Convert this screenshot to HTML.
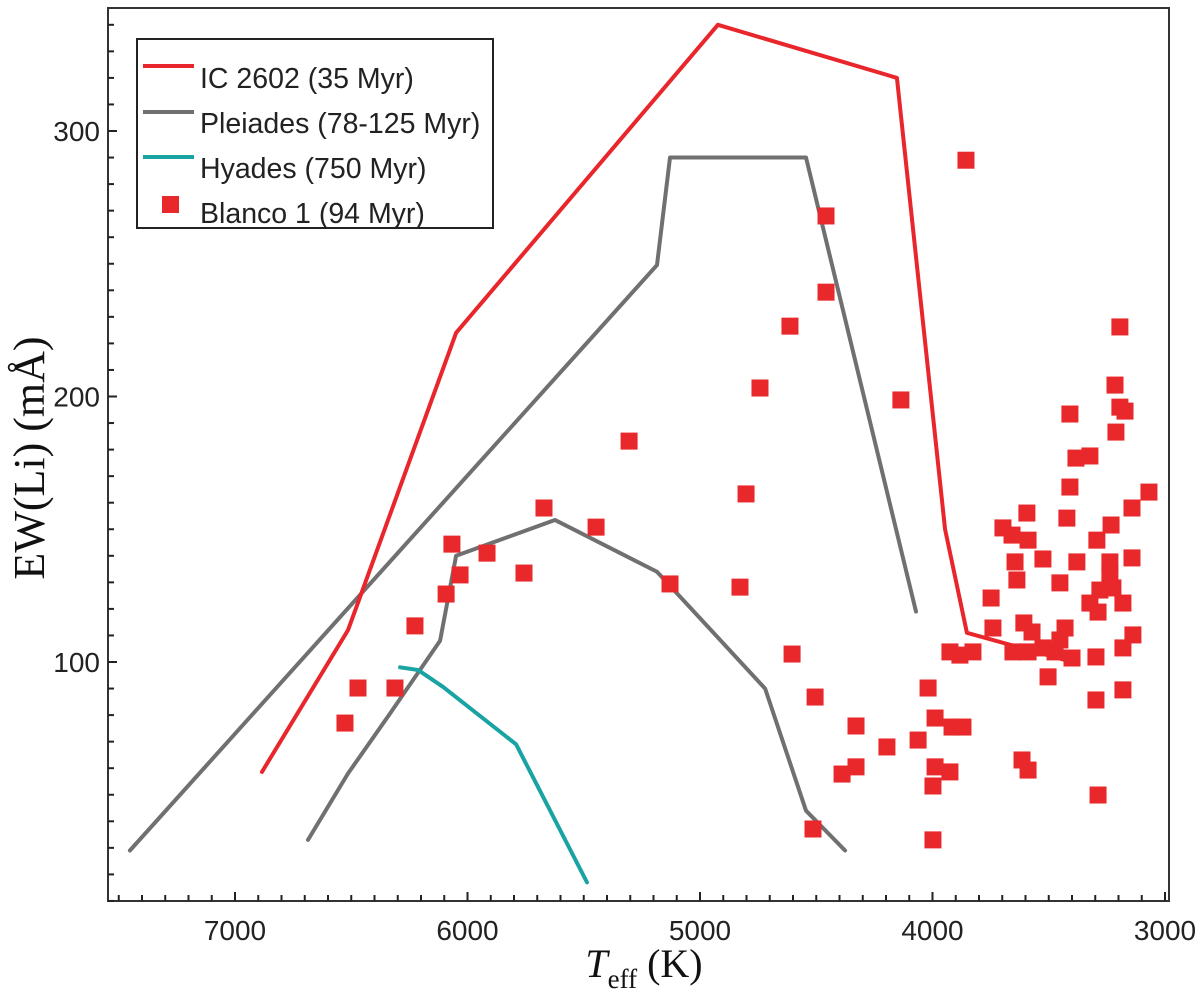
<!DOCTYPE html>
<html><head><meta charset="utf-8"><style>
body{margin:0;background:#fff;}
svg{display:block;}
</style></head><body>
<svg id="chart" width="1200" height="998" viewBox="0 0 1200 998" xmlns="http://www.w3.org/2000/svg">
<g id="marks"></g>
<g id="axes"></g>
<text x="44" y="458" transform="rotate(-90 44 458)" text-anchor="middle" font-family="Liberation Serif, serif" font-size="44" fill="#111">EW(Li) (mÅ)</text>
<text x="644" y="977" text-anchor="middle" font-family="Liberation Serif, serif" font-size="40" fill="#111"><tspan font-style="italic">T</tspan><tspan font-size="27" dy="11">eff</tspan><tspan dy="-11"> (K)</tspan></text>
<g>
<rect x="137" y="39" width="356" height="189" fill="#fff" stroke="#222" stroke-width="2"/>
<line x1="143" y1="66" x2="194" y2="66" stroke="#e8262b" stroke-width="4"/>
<text x="200" y="88" font-family="Liberation Sans, sans-serif" font-size="28.5" fill="#222">IC 2602 (35 Myr)</text>
<line x1="143" y1="112" x2="194" y2="112" stroke="#707070" stroke-width="4"/>
<text x="200" y="133" font-family="Liberation Sans, sans-serif" font-size="28.5" fill="#222">Pleiades (78-125 Myr)</text>
<line x1="143" y1="157" x2="194" y2="157" stroke="#1aa3a3" stroke-width="4"/>
<text x="200" y="178" font-family="Liberation Sans, sans-serif" font-size="28.5" fill="#222">Hyades (750 Myr)</text>
<rect x="162" y="196" width="17" height="17" fill="#e8282b"/>
<text x="200" y="223" font-family="Liberation Sans, sans-serif" font-size="28.5" fill="#222">Blanco 1 (94 Myr)</text>
</g>
</svg>
<script>
const xTicks=[7000,6000,5000,4000,3000];
const yTicks=[100,200,300];
const icT=[6884,6514,6049,4923,4153,3946,3852,3400];
const icEW=[58.6,112,224,340,320,150,111,100];
const plUpT=[7452,5185,5129,4544,4071];
const plUpEW=[29,249.5,290,290,119];
const plLoT=[6686,6514,6338,6118,6049,5624,5185,4720,4544,4376];
const plLoEW=[33,58,80,108,140,153.5,134,90,44,29];
const hyT=[6290,6213,6105,5791,5486];
const hyEW=[98,97,90.6,69,17];
const blT=[6527,6471,6312,6226,6092,6032,6067,5916,5757,5671,5447,5305,5129,4828,4802,4742,4613,4604,4505,4514,4458,4458,4389,4329,4329,4136,3856,3409,3383,3323,3215,3211,3194,3194,3172,
3409,3069,3594,3142,3422,3232,3697,3658,3589,3293,3525,3379,3645,3142,3237,3637,3237,3452,3280,3224,3323,3181,3288,3748,3740,3607,3572,3430,3452,3525,3473,3138,3181,3925,3882,3826,3654,3589,3400,3297,3503,4019,3181,3297,3989,3916,3869,4062,4196,3615,3589,3989,3925,3998,3288,3998];
const blEW=[77,90.2,90.2,113.6,125.6,132.8,144.4,141,133.5,158,150.8,183.2,129.4,128.2,163.3,203.2,226.5,103,86.8,37.1,268,239.3,57.8,75.9,60.5,198.7,289,193.4,176.8,177.6,204.3,186.6,226.2,196,194.5,
165.9,164,156.1,158,154.2,151.6,150.5,147.8,145.9,145.9,138.8,137.7,137.7,139.2,137.7,130.9,132.8,129.8,127.1,127.9,122.2,122.2,118.8,124.1,112.8,114.7,111.3,112.8,108.3,105.3,103.8,110.2,105.3,103.8,102.6,103.8,103.8,103.8,101.5,101.9,94.4,90.2,89.5,85.7,78.9,75.5,75.5,70.6,68,63.1,59.3,60.5,58.6,53.3,49.9,33];

const NS='http://www.w3.org/2000/svg';
const X=t=>235+(7000-t)*0.2325;
const Y=v=>662-(v-100)*2.655;
const L=108,R=1169,T0=8,B=901;
const marks=document.getElementById('marks');
const axes=document.getElementById('axes');
function mk(tag,attrs,parent){const e=document.createElementNS(NS,tag);for(const k in attrs)e.setAttribute(k,attrs[k]);parent.appendChild(e);return e;}

const frame=mk('rect',{x:L,y:T0,width:R-L,height:B-T0,fill:'none',stroke:'#333','stroke-width':2},axes);


for(let t=7500;t>=3000;t-=100){const x=X(t);if(x<L||x>R)continue;const maj=t%1000===0;
 const tk=mk('line',{x1:x,x2:x,y1:B,y2:B-(maj?9:6),stroke:'#222','stroke-width':2},axes);
 
 }
xTicks.forEach(t=>{const tx=mk('text',{x:X(t),y:940,'text-anchor':'middle','font-family':'Liberation Sans, sans-serif','font-size':28,fill:'#222'},axes);tx.textContent=t;
 
 });
for(let v=10;v<=340;v+=10){const y=Y(v);if(y<T0||y>B)continue;const maj=v%100===0;
 const tk=mk('line',{x1:L,x2:L+(maj?9:6),y1:y,y2:y,stroke:'#222','stroke-width':2},axes);
 
 }
yTicks.forEach(v=>{const tx=mk('text',{x:100,y:Y(v)+10,'text-anchor':'end','font-family':'Liberation Sans, sans-serif','font-size':28,fill:'#222'},axes);tx.textContent=v;
 
 });

function line(ts,vs,color,name){const p=mk('polyline',{points:ts.map((t,i)=>X(t)+','+Y(vs[i])).join(' '),fill:'none',stroke:color,'stroke-width':4,'stroke-linejoin':'round','stroke-linecap':'round'},marks);
 
 }
line(plUpT,plUpEW,'#707070','pleiades-upper-line');
line(plLoT,plLoEW,'#707070','pleiades-lower-line');
line(hyT,hyEW,'#1aa3a3','hyades-line');
line(icT,icEW,'#e8262b','ic2602-line');
blT.forEach((t,i)=>{const r=mk('rect',{x:X(t)-8.5,y:Y(blEW[i])-8.5,width:17,height:17,fill:'#e8282b'},marks);
 
 });
</script>
</body></html>
